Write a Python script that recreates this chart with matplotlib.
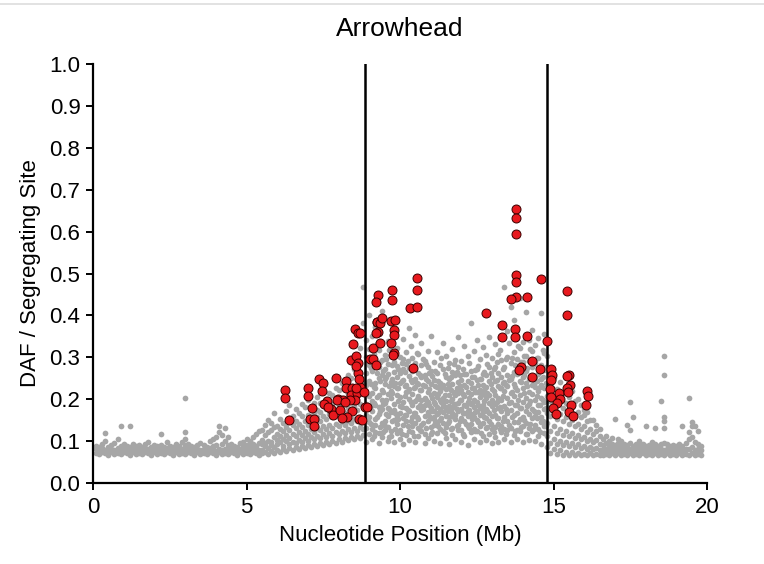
import matplotlib
matplotlib.use("Agg")
import matplotlib.pyplot as plt
from matplotlib.lines import Line2D

plt.rcParams['font.family'] = ['Liberation Sans', 'DejaVu Sans']

title = "Arrowhead"
x_label = "Nucleotide Position (Mb)"
y_label = "DAF / Segregating Site"
x_ticks = [0, 5, 10, 15, 20]
y_ticks = [0.0, 0.1, 0.2, 0.3, 0.4, 0.5, 0.6, 0.7, 0.8, 0.9, 1.0]
boundaries = [8.86, 14.79]

# gray sites: rows of (position, DAF values...)
gray_left = [
    (0.1, .072, .080, .088), (0.2, .070, .078, .085), (0.3, .074, .083, .092),
    (0.4, .071, .079, .119, .100), (0.5, .068, .077, .087), (0.6, .073, .081, .090),
    (0.7, .070, .079, .095), (0.8, .072, .084, .105), (0.9, .069, .078, .088, .136),
    (1.0, .074, .082, .092), (1.1, .071, .080, .089), (1.2, .068, .077, .086, .136),
    (1.3, .073, .083, .094), (1.4, .070, .079, .088), (1.5, .072, .081, .091),
    (1.6, .069, .078, .087), (1.7, .074, .083, .093), (1.8, .071, .080, .098),
    (1.9, .068, .077, .086), (2.0, .073, .082, .091), (2.1, .070, .079, .088),
    (2.2, .072, .081, .090, .117), (2.3, .069, .078, .087), (2.4, .074, .083, .097),
    (2.5, .071, .080, .089), (2.6, .068, .077, .086), (2.7, .073, .082, .092),
    (2.8, .070, .079, .088), (2.9, .072, .081, .098),
    (3.0, .069, .078, .090, .122, .105, .203), (3.1, .074, .083, .092),
    (3.2, .071, .080, .089), (3.3, .068, .077, .087), (3.4, .073, .082, .091),
    (3.5, .070, .079, .095), (3.6, .072, .081, .090), (3.7, .069, .078, .087),
    (3.8, .074, .083, .100), (3.9, .071, .080, .089, .105), (4.0, .068, .077, .090, .110),
    (4.1, .073, .082, .122, .136), (4.2, .070, .079, .092, .115),
    (4.3, .072, .081, .131, .100), (4.4, .069, .078, .110, .090),
    (4.5, .074, .083, .092), (4.6, .071, .080, .089), (4.7, .068, .077, .087),
    (4.8, .073, .082, .095), (4.9, .070, .079, .098, .085), (5.0, .072, .081, .090, .104),
    (5.1, .069, .078, .088, .100), (5.2, .074, .083, .093, .110),
    (5.3, .071, .080, .089, .118), (5.4, .068, .078, .095, .125),
]
gray_rise = [
    (5.5, .071, .079, .094, .103, .127), (5.6, .074, .088, .096, .115, .139),
    (5.7, .069, .083, .101, .121, .151), (5.8, .077, .091, .098, .126, .144),
    (5.9, .072, .086, .109, .133, .166), (6.0, .079, .094, .103, .118, .137),
    (6.1, .075, .097, .112, .129, .152), (6.2, .081, .089, .106, .124, .143),
    (6.3, .076, .101, .115, .133, .171), (6.4, .084, .092, .108, .127, .156, .185),
    (6.5, .079, .099, .117, .138, .161), (6.6, .086, .095, .111, .131, .148, .176),
    (6.7, .082, .103, .122, .142, .166), (6.8, .088, .097, .114, .134, .159, .188),
    (6.9, .084, .107, .125, .147, .181), (7.0, .091, .101, .118, .139, .163, .197),
    (7.1, .086, .109, .129, .153, .176), (7.2, .093, .104, .121, .143, .191, .168),
    (7.3, .089, .113, .131, .157, .174, .205), (7.4, .095, .107, .126, .149, .169, .192),
    (7.5, .091, .116, .135, .161, .186), (7.6, .098, .109, .128, .152, .201, .177),
    (7.7, .094, .119, .138, .165, .183, .214), (7.8, .101, .112, .132, .158, .209, .189),
    (7.9, .096, .122, .141, .168, .193, .227), (8.0, .104, .116, .135, .163, .186, .221),
    (8.1, .099, .125, .145, .173, .202, .239), (8.2, .107, .119, .139, .166, .196, .236),
    (8.3, .102, .128, .148, .178, .212, .257), (8.4, .109, .122, .143, .171, .203, .251),
    (8.5, .104, .131, .153, .183, .218, .272), (8.6, .112, .125, .147, .175, .207, .293),
    (8.7, .107, .134, .158, .188, .227, .322), (8.8, .114, .128, .151, .181, .242, .381, .468),
]
gray_peak1 = [
    (8.9, .098, .131, .162, .189, .233, .262, .301, .342),
    (9.0, .117, .146, .158, .207, .244, .281, .319, .402),
    (9.1, .104, .128, .171, .196, .215, .268, .297, .351),
    (9.2, .122, .139, .153, .186, .226, .239, .287, .372),
    (9.3, .095, .119, .165, .181, .209, .251, .276, .318),
    (9.4, .109, .143, .176, .198, .221, .257, .293, .411),
    (9.5, .126, .137, .149, .191, .236, .248, .271, .305),
    (9.6, .101, .134, .161, .178, .213, .259, .284, .338),
    (9.7, .113, .124, .169, .203, .219, .242, .306, .327),
    (9.8, .097, .151, .174, .188, .231, .266, .289, .356),
    (9.9, .119, .141, .159, .211, .227, .253, .279, .322),
    (10.0, .106, .127, .166, .184, .205, .238, .262, .301),
    (10.1, .093, .138, .155, .193, .246, .271, .296, .343),
    (10.2, .115, .147, .163, .178, .217, .234, .283, .313),
    (10.3, .102, .125, .172, .201, .224, .256, .274, .371),
    (10.4, .121, .136, .157, .185, .212, .241, .268, .299),
    (10.5, .099, .144, .167, .196, .229, .249, .287, .354),
    (10.6, .111, .131, .152, .182, .207, .237, .263, .308),
    (10.7, .124, .139, .174, .199, .223, .252, .281, .333),
    (10.8, .096, .118, .161, .187, .203, .232, .258, .292),
    (10.9, .108, .149, .169, .194, .218, .244, .276, .315),
    (11.0, .117, .133, .156, .179, .211, .236, .267, .352),
]
gray_mid = [
    (11.1, .101, .138, .157, .172, .193, .214, .247, .289),
    (11.2, .119, .146, .164, .181, .206, .229, .262, .312),
    (11.3, .096, .129, .151, .177, .198, .219, .238, .281),
    (11.4, .124, .143, .169, .186, .203, .233, .271, .334),
    (11.5, .108, .134, .161, .174, .196, .224, .253, .302),
    (11.6, .093, .147, .158, .183, .211, .227, .249, .286),
    (11.7, .115, .131, .166, .179, .201, .236, .264, .321),
    (11.8, .104, .152, .163, .188, .209, .218, .257, .293),
    (11.9, .127, .139, .171, .192, .214, .241, .276, .349),
    (12.0, .099, .126, .155, .176, .197, .223, .246, .291),
    (12.1, .113, .148, .168, .185, .207, .234, .259, .328),
    (12.2, .091, .135, .159, .173, .194, .216, .243, .302),
    (12.3, .121, .142, .164, .189, .212, .238, .267, .381),
    (12.4, .106, .129, .157, .181, .199, .226, .254, .316),
    (12.5, .125, .151, .172, .193, .218, .247, .273, .341),
    (12.6, .098, .137, .162, .178, .205, .221, .249, .296),
    (12.7, .112, .144, .169, .187, .213, .235, .261, .324),
    (12.8, .103, .131, .154, .176, .202, .229, .257, .306),
    (12.9, .118, .147, .166, .191, .209, .244, .278, .348),
    (13.0, .095, .128, .159, .183, .198, .224, .252, .299),
]
gray_peak2 = [
    (13.1, .109, .134, .162, .188, .211, .243, .276, .331),
    (13.2, .097, .141, .154, .179, .204, .232, .263, .309),
    (13.3, .121, .137, .171, .197, .226, .252, .294, .378),
    (13.4, .104, .128, .158, .184, .219, .241, .277, .467),
    (13.5, .126, .149, .166, .202, .231, .258, .301, .362),
    (13.6, .099, .132, .175, .193, .214, .248, .286, .421),
    (13.7, .114, .145, .163, .207, .237, .266, .313, .389),
    (13.8, .106, .127, .168, .186, .222, .259, .297, .352),
    (13.9, .123, .152, .179, .211, .243, .274, .322, .441),
    (14.0, .097, .136, .157, .194, .226, .253, .288, .336),
    (14.1, .117, .143, .172, .203, .238, .268, .304, .408),
    (14.2, .103, .131, .164, .189, .217, .249, .291, .341),
    (14.3, .124, .154, .176, .212, .234, .277, .316, .366),
    (14.4, .101, .139, .161, .197, .228, .252, .287, .329),
    (14.5, .112, .128, .169, .186, .219, .261, .299, .346),
    (14.6, .094, .146, .158, .204, .233, .248, .281, .406),
    (14.7, .119, .135, .177, .193, .227, .269, .311, .356),
    (14.8, .086, .112, .143, .168, .207, .239, .272, .302),
]
gray_core = [
    (9.05, .142, .183, .236, .274), (9.15, .112, .191, .228, .309), (9.25, .157, .205, .262, .331),
    (9.35, .133, .172, .244, .289), (9.45, .121, .188, .217, .268), (9.55, .164, .199, .253, .296),
    (9.65, .109, .176, .231, .318), (9.75, .147, .214, .249, .281), (9.85, .128, .167, .238, .302),
    (9.95, .153, .196, .226, .271), (10.05, .117, .181, .243, .287), (10.15, .162, .208, .232, .264),
    (10.25, .136, .174, .219, .291), (10.35, .149, .193, .247, .328), (10.45, .113, .168, .226, .276),
    (10.55, .158, .201, .239, .311), (10.65, .127, .186, .221, .258), (10.75, .144, .177, .234, .297),
    (10.85, .131, .198, .248, .283), (10.95, .161, .187, .225, .262), (11.05, .122, .171, .203, .255),
    (11.15, .148, .189, .231, .268), (11.25, .135, .166, .212, .243), (11.35, .154, .194, .227, .298),
    (11.45, .119, .181, .209, .261), (11.55, .143, .172, .237, .275), (11.65, .128, .196, .221, .252),
    (11.75, .157, .185, .214, .284), (11.85, .137, .177, .226, .266), (11.95, .149, .199, .232, .258),
    (12.05, .116, .168, .213, .272), (12.15, .141, .184, .229, .261), (12.25, .132, .175, .204, .287),
    (12.35, .153, .192, .226, .254), (12.45, .124, .169, .217, .269), (12.55, .146, .187, .233, .279),
    (12.65, .119, .178, .209, .248), (12.75, .158, .196, .222, .266), (12.85, .133, .171, .214, .283),
    (12.95, .142, .188, .236, .262), (13.05, .121, .174, .219, .271), (13.15, .155, .193, .247, .288),
    (13.25, .128, .182, .226, .317), (13.35, .147, .208, .239, .271), (13.45, .116, .176, .233, .296),
    (13.55, .139, .191, .245, .335), (13.65, .158, .217, .256, .298), (13.75, .124, .185, .229, .281),
    (13.85, .146, .199, .263, .327), (13.95, .133, .178, .241, .289), (14.05, .151, .214, .257, .303),
    (14.15, .118, .183, .231, .274), (14.25, .142, .196, .248, .321), (14.35, .129, .173, .236, .283),
    (14.45, .155, .207, .244, .298), (14.55, .121, .186, .229, .271), (14.65, .147, .198, .252, .317),
    (14.75, .136, .179, .238, .276),
]
gray_fall = [
    (14.9, .072, .095, .125, .160, .195, .235), (15.0, .080, .105, .135, .170, .205, .250),
    (15.1, .070, .092, .120, .152, .188, .225), (15.2, .078, .100, .130, .165, .198, .240),
    (15.3, .068, .090, .115, .148, .180, .215), (15.4, .075, .098, .125, .158, .192, .230),
    (15.5, .066, .088, .112, .142, .175, .205), (15.6, .073, .095, .120, .150, .182, .220),
    (15.7, .068, .086, .108, .135, .165, .195), (15.8, .072, .092, .115, .142, .170, .200),
    (15.9, .066, .084, .104, .128, .158, .185), (16.0, .070, .088, .110, .135, .162, .175),
    (16.1, .067, .082, .100, .122, .148, .170), (16.2, .071, .086, .105, .128, .150),
    (16.3, .068, .080, .098, .118, .150), (16.4, .070, .084, .102, .125, .138),
    (16.5, .067, .079, .094, .112, .129),
]
gray_right = [
    (16.6, .068, .078, .090, .104), (16.7, .070, .082, .095, .112),
    (16.8, .067, .076, .088, .100), (16.9, .071, .080, .093, .108),
    (17.0, .068, .079, .090, .153), (17.1, .072, .083, .096, .105),
    (17.2, .067, .077, .088, .100), (17.3, .070, .081, .093),
    (17.4, .068, .078, .090, .138), (17.5, .071, .082, .095, .126, .193),
    (17.6, .067, .077, .089, .158), (17.7, .070, .080, .092),
    (17.8, .068, .078, .088, .100), (17.9, .071, .081, .093),
    (18.0, .067, .077, .089, .136), (18.1, .070, .080, .091),
    (18.2, .068, .078, .088, .098), (18.3, .071, .082, .093, .131),
    (18.4, .067, .077, .089), (18.5, .070, .080, .092, .196),
    (18.6, .068, .078, .095, .131, .148, .158, .258, .303), (18.7, .071, .082, .093),
    (18.8, .067, .077, .088), (18.9, .070, .080, .091),
    (19.0, .068, .078, .088), (19.1, .071, .081, .093),
    (19.2, .067, .077, .089, .136), (19.3, .070, .080, .095),
    (19.4, .068, .082, .104, .122, .203), (19.5, .071, .085, .110, .136, .146),
    (19.6, .067, .078, .098, .136), (19.7, .070, .082, .094, .124),
    (19.8, .068, .078, .088),
]

# red (outlier) sites
red_x = [6.25, 6.25, 6.38, 7.00, 7.00, 7.13, 7.07, 7.20, 7.20, 7.36, 7.49, 7.46, 7.92, 8.24,
         7.61, 7.52, 7.75, 7.82, 8.05, 7.98, 8.14, 8.24, 8.44, 8.40, 8.60, 8.70, 8.83, 8.53,
         8.37, 8.44, 8.27, 8.11, 8.67, 8.86, 8.92, 7.95, 7.65, 8.20, 8.57, 8.76,
         8.53, 8.63, 8.47, 8.40, 8.57, 8.63, 8.63, 8.67, 8.57, 8.70,
         9.02, 9.12, 9.22, 9.12, 9.25, 9.28, 9.22, 9.74, 9.74, 9.25, 9.35, 9.41,
         9.28, 9.22, 9.35, 9.70, 9.84, 9.80, 9.80, 9.70, 9.80, 9.77,
         10.33, 10.55, 10.55, 10.55, 10.43,
         13.78, 13.78, 13.78, 13.78, 13.78, 14.59, 15.44, 15.44, 13.78, 13.62, 14.14, 12.80,
         13.32, 13.32, 13.75, 13.75, 14.14, 14.79, 13.94, 13.88, 14.30, 14.56, 14.30,
         14.92, 14.95, 14.92, 14.89, 14.92, 15.18, 15.21, 15.11, 14.98, 15.08,
         15.50, 15.44, 15.54, 15.44, 15.47, 15.57, 15.50, 15.64, 16.09, 16.12, 16.06]
red_y = [.222, .203, .150, .227, .208, .179, .153, .153, .136, .248, .239, .220, .250, .243,
         .196, .189, .177, .162, .174, .200, .198, .227, .227, .210, .215, .229, .217, .198,
         .198, .172, .158, .155, .153, .181, .181, .198, .181, .193, .227, .150,
         .368, .358, .332, .294, .303, .286, .262, .248, .279, .358,
         .296, .296, .282, .322, .384, .449, .432, .461, .437, .384, .382, .394,
         .360, .358, .334, .387, .389, .365, .353, .334, .310, .305,
         .418, .420, .489, .461, .274,
         .654, .632, .594, .496, .480, .487, .458, .401, .444, .439, .444, .406,
         .377, .349, .368, .349, .351, .339, .277, .270, .291, .272, .253,
         .272, .258, .246, .224, .205, .215, .200, .191, .179, .165,
         .258, .255, .234, .227, .217, .186, .170, .160, .220, .207, .186]

gray_x, gray_y = [], []
for rows in (gray_left, gray_rise, gray_peak1, gray_mid, gray_peak2, gray_core,
             gray_fall, gray_right):
    for row in rows:
        for v in row[1:]:
            gray_x.append(row[0])
            gray_y.append(v)

fig = plt.figure(figsize=(7.64, 5.64), dpi=100)
ax = fig.add_axes([93/764, 1 - 483/564, (707-93)/764, (483-64)/564])

ax.scatter(gray_x, gray_y, s=17, color='#A6A6A6', linewidths=0, zorder=2)
for b in boundaries:
    ax.axvline(b, ymin=0, ymax=1, color='black', linewidth=1.8, zorder=3)
ax.scatter(red_x, red_y, s=42, color='#E8191E', edgecolors='#3A0000', linewidths=0.7, zorder=4)

ax.set_xlim(0, 20)
ax.set_ylim(0, 1.0)
ax.set_xticks(x_ticks)
ax.set_yticks(y_ticks)
ax.set_yticklabels([f"{v:.1f}" for v in y_ticks])
for s in ('top', 'right'):
    ax.spines[s].set_visible(False)
for s in ('left', 'bottom'):
    ax.spines[s].set_linewidth(1.6)
    ax.spines[s].set_color('black')
ax.tick_params(axis='both', direction='out', length=5, width=1.4, labelsize=16, pad=4)
ax.tick_params(axis='x', pad=5)
ax.set_xlabel(x_label, fontsize=16, labelpad=5)
ax.set_ylabel(y_label, fontsize=16, labelpad=6)
ax.set_title(title, fontsize=19, pad=20)

fig.add_artist(Line2D([0, 1], [1 - 4/564, 1 - 4/564], color='#DDDDDD', linewidth=1.2,
                      transform=fig.transFigure))

fig.savefig("out.png", dpi=100)
